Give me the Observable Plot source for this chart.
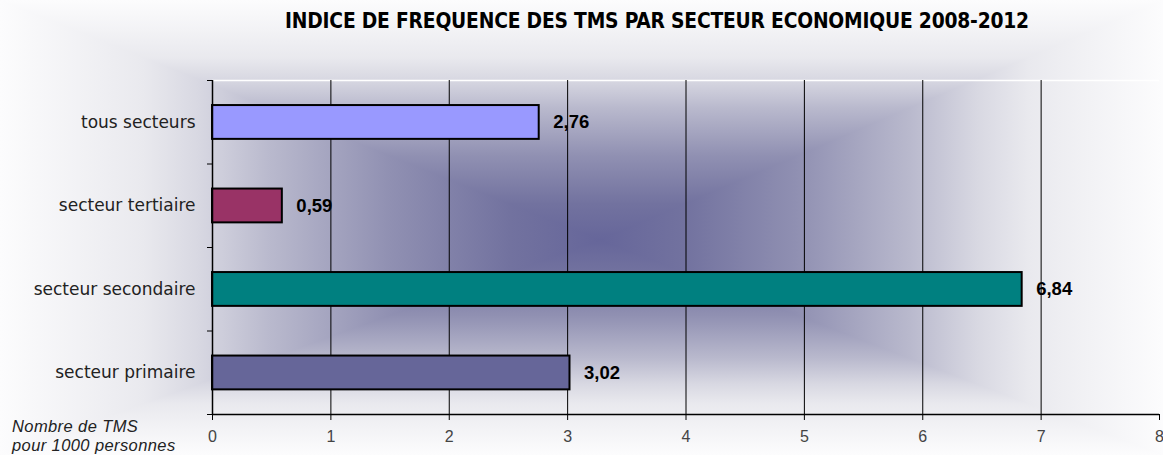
<!DOCTYPE html>
<html><head><meta charset="utf-8">
<script src="https://cdn.jsdelivr.net/npm/d3@7"></script>
<script src="https://cdn.jsdelivr.net/npm/@observablehq/plot@0.6"></script>
<style>
body{margin:0;background:#fff;}
#wrap{position:relative;width:1163px;height:455px;overflow:hidden;}
#title{position:absolute;left:657px;top:9px;transform:translateX(-50%);white-space:nowrap;
 font-family:"DejaVu Sans";font-stretch:condensed;font-weight:bold;font-size:20.8px;color:#000;letter-spacing:-0.2px;}
#note{position:absolute;left:12px;top:417px;font-family:"Liberation Sans";font-style:italic;font-size:16.5px;line-height:19px;color:#222;letter-spacing:0.4px;}
</style></head>
<body><div id="wrap"><div id="chart"></div>
<div id="title">INDICE DE FREQUENCE DES TMS PAR SECTEUR ECONOMIQUE 2008-2012</div>
<div id="note">Nombre de TMS<br>pour 1000 personnes</div></div>
<script>
const categories = ["tous secteurs","secteur tertiaire","secteur secondaire","secteur primaire"];
const values = [2.76, 0.59, 6.84, 3.02];
const colors = ["#9999ff","#993366","#008080","#666699"];
const xTicks = [0,1,2,3,4,5,6,7,8];
const gridTicks = [1,2,3,4,5,6,7];

const data = categories.map((c,i)=>({category:c, value:values[i], color:colors[i], row:i}));
const W = 1163, H = 455;
const fmt = v => v.toFixed(2).replace(".", ",");

const plot = Plot.plot({
  width: W, height: H,
  marginLeft: 212, marginRight: 4, marginTop: 80, marginBottom: 41,
  style: {background: "transparent", fontFamily: "DejaVu Sans", color: "#000", overflow: "visible"},
  x: {domain: [0, 8]},
  y: {domain: [0, 4], reverse: true},
  color: {type: "identity"},
  marks: [
    Plot.ruleY([0], {x1: 0, x2: 8, stroke: "#fff", strokeWidth: 1.5}),
    Plot.ruleX(gridTicks, {y1: 0, y2: 4, stroke: "#000", strokeWidth: 1}),
    Plot.rectX(data, {x1: 0, x2: "value", y1: d => d.row + 0.3, y2: d => d.row + 0.705, fill: "color", stroke: "#000", strokeWidth: 2}),
    Plot.text(data, {x: "value", y: d => d.row + 0.5, text: d => fmt(d.value), dx: 14, textAnchor: "start",
      fontWeight: "bold", fontSize: 18.5, fontFamily: "Liberation Sans", fill: "#000"}),
    Plot.ruleX([0], {y1: 0, y2: 4, stroke: "#000", strokeWidth: 1.5}),
    Plot.ruleY([4], {x1: 0, x2: 8, stroke: "#000", strokeWidth: 1.5}),
    Plot.axisX({ticks: xTicks, tickSize: 6, tickPadding: 10, label: null, fontSize: 16, fontFamily: "Liberation Sans", fill: "#444", stroke: "#000"}),
    Plot.axisY({ticks: [0,1,2,3,4], tickSize: 5, tickFormat: () => "", label: null, stroke: "#000"}),
    Plot.axisY({ticks: [0.5,1.5,2.5,3.5], tickSize: 0, tickPadding: 17, tickFormat: d => categories[Math.floor(d)],
      label: null, fontSize: 17, fill: "#222", style: {letterSpacing: "0.2px"}})
  ]
});

// rectangular "from centre" background gradient
const svg = d3.select(plot);
const cx = 600, cy = 240;
const stops = [[0,"#66669a"],[0.15,"#72729f"],[0.35,"#9090b2"],[0.55,"#b9b9cd"],[0.67,"#d8d8e2"],[0.76,"#e9e9ee"],[0.87,"#f2f2f5"],[1,"#fcfcfd"]];
const defs = svg.insert("defs", ":first-child");
const dirs = {gl:[cx,cy,0,cy], gr:[cx,cy,W,cy], gt:[cx,cy,cx,0], gb:[cx,cy,cx,H]};
for (const [id,[x1,y1,x2,y2]] of Object.entries(dirs)) {
  const g = defs.append("linearGradient").attr("id", id).attr("gradientUnits","userSpaceOnUse")
    .attr("x1",x1).attr("y1",y1).attr("x2",x2).attr("y2",y2);
  for (const [o,c] of stops) g.append("stop").attr("offset",o).attr("stop-color",c);
}
const bg = svg.insert("g", "defs + *");
bg.append("rect").attr("x",0).attr("y",0).attr("width",cx).attr("height",H).attr("fill","url(#gl)");
bg.append("rect").attr("x",cx).attr("y",0).attr("width",W-cx).attr("height",H).attr("fill","url(#gr)");
bg.append("polygon").attr("points",`0,0 ${W},0 ${cx},${cy}`).attr("fill","url(#gt)");
bg.append("polygon").attr("points",`0,${H} ${W},${H} ${cx},${cy}`).attr("fill","url(#gb)");

document.getElementById("chart").appendChild(plot);
</script></body></html>
